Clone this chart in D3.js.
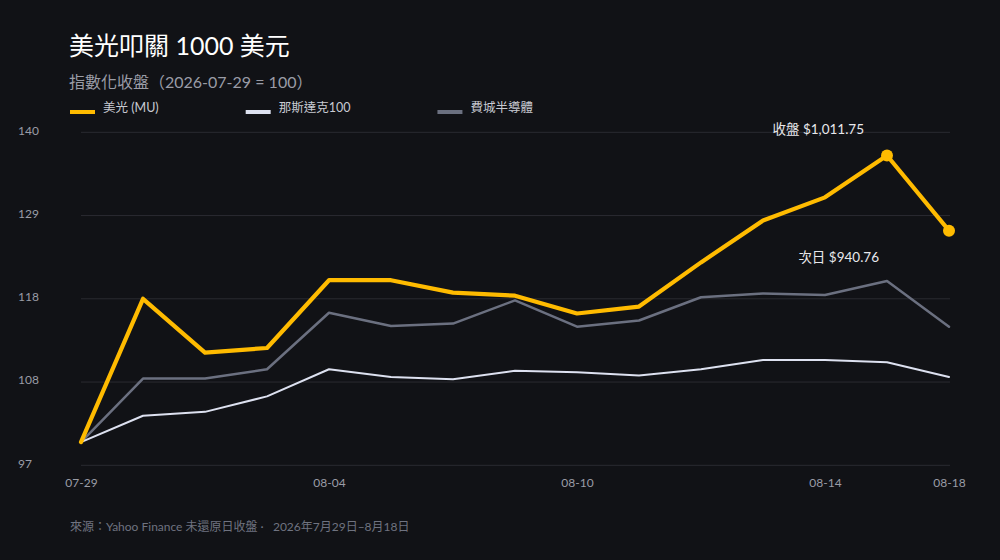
<!DOCTYPE html>
<html><head><meta charset="utf-8">
<script src="https://cdn.jsdelivr.net/npm/d3@7"></script>
<style>
html,body{margin:0;padding:0;background:#111216;}
svg{display:block;font-family:Lato,"Noto Sans CJK TC","Noto Sans",sans-serif;}
text{white-space:pre;}
</style></head>
<body>
<svg id="chart" width="1000" height="560"></svg>
<script>
const dates = ["07-29","07-30","07-31","08-03","08-04","08-05","08-06","08-07","08-10","08-11","08-12","08-13","08-14","08-17","08-18"];
const muValues   = [100,118.5,111.55,112.15,120.9,120.9,119.3,118.9,116.6,117.5,123.2,128.6,131.6,137.0,127.3];
const ndxValues  = [100,103.4,103.9,105.9,109.4,108.4,108.1,109.2,109.0,108.6,109.4,110.6,110.6,110.3,108.4];
const soxValues  = [100,108.2,108.2,109.4,116.7,115.0,115.3,118.3,114.9,115.7,118.7,119.2,119.0,120.8,114.9];
const seriesNames = ["美光 (MU)","那斯達克100","費城半導體"];
const xTickValues = ["07-29","08-04","08-10","08-14","08-18"];
const yTickValues = [97,107.75,118.5,129.25,140];
const yTickLabels = ["97","108","118","129","140"];
const annotations = [
  {idx:13, text:"收盤 $1,011.75"},
  {idx:14, text:"次日 $940.76"}
];

const svg = d3.select("#chart");
svg.append("rect").attr("width",1000).attr("height",560).attr("fill","#111216");

const x = d3.scalePoint().domain(dates).range([81,949]);
const y = d3.scaleLinear().domain([97,140]).range([465.3,132.3]);

// grid
svg.append("g").selectAll("line").data(yTickValues).join("line")
  .attr("x1",81).attr("x2",950)
  .attr("y1",d=>y(d)).attr("y2",d=>y(d))
  .attr("stroke","#2a2b31").attr("stroke-width",1);
// y labels
svg.append("g").selectAll("text").data(yTickValues).join("text")
  .attr("x",18).attr("y",d=>y(d)-2).attr("dy","0.35em")
  .attr("fill","#9a9ca6").attr("font-size",12)
  .text((d,i)=>yTickLabels[i]);

// x axis
const xAxis = d3.axisBottom(x).tickValues(xTickValues).tickSize(0).tickPadding(0);
const gx = svg.append("g").attr("transform","translate(0,478)").call(xAxis);
gx.select(".domain").remove();
gx.selectAll("text").attr("fill","#9a9ca6").attr("font-size",12)
  .attr("font-family",'Lato,"Noto Sans CJK TC",sans-serif');

const line = d3.line().x((d,i)=>x(dates[i])).y(d=>y(d));
const series = [
  {name:seriesNames[2], values:soxValues, color:"#6b7080", width:2.5},
  {name:seriesNames[1], values:ndxValues, color:"#dde1f0", width:2},
  {name:seriesNames[0], values:muValues,  color:"#ffbb00", width:4.2}
];
svg.append("g").selectAll("path").data(series).join("path")
  .attr("d",s=>line(s.values)).attr("fill","none")
  .attr("stroke",s=>s.color).attr("stroke-width",s=>s.width)
  .attr("stroke-linejoin","round").attr("stroke-linecap","round");

// dots
svg.append("g").selectAll("circle").data(annotations).join("circle")
  .attr("cx",d=>x(dates[d.idx])).attr("cy",d=>y(muValues[d.idx]))
  .attr("r",6).attr("fill","#ffbb00");

// annotation text
svg.append("text").attr("x",x(dates[13])-23).attr("y",y(muValues[13])-22)
  .attr("text-anchor","end").attr("fill","#e8e8ec").attr("font-size",13.5)
  .text(annotations[0].text);
svg.append("text").attr("x",x(dates[14])-70).attr("y",y(muValues[14])+31)
  .attr("text-anchor","end").attr("fill","#e8e8ec").attr("font-size",13.5)
  .text(annotations[1].text);

// title
svg.append("text").attr("x",69).attr("y",55).attr("fill","#ffffff")
  .attr("font-size",25).text("美光叩關 1000 美元");
svg.append("text").attr("x",69).attr("y",88).attr("fill","#9a9ca6")
  .attr("font-size",16).text("指數化收盤（2026-07-29 = 100）");

// legend
const legendColors = ["#ffbb00","#dde1f0","#6b7080"];
let lx = 70;
seriesNames.forEach((n,i)=>{
  svg.append("rect").attr("x",lx).attr("y",110).attr("width",25).attr("height",4)
    .attr("fill",legendColors[i]);
  const t = svg.append("text").attr("x",lx+33).attr("y",112).attr("fill","#c8cad2")
    .attr("font-size",12.5).text(n);
  lx = lx + 33 + t.node().getComputedTextLength() + 87;
});

// footer
svg.append("text").attr("x",70).attr("y",531).attr("fill","#6f7380")
  .attr("font-size",12).text("來源：Yahoo Finance 未還原日收盤 ·   2026年7月29日–8月18日");
</script>
</body></html>
